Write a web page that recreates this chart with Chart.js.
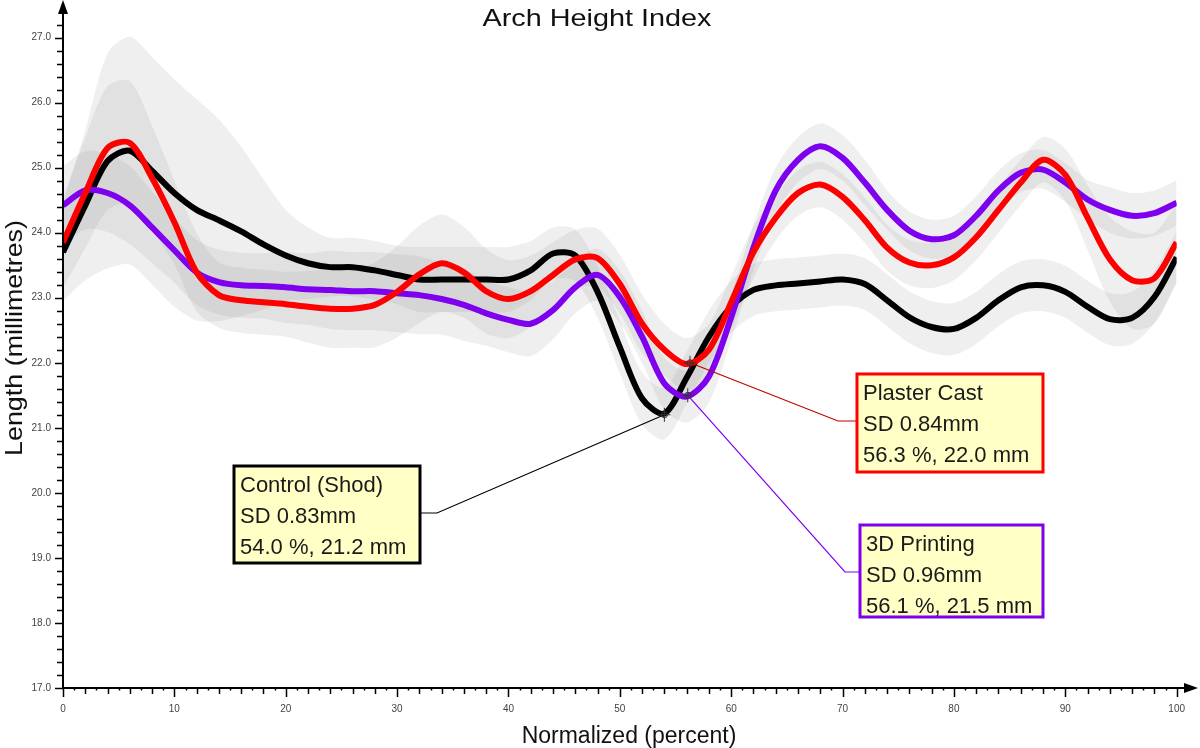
<!DOCTYPE html>
<html>
<head>
<meta charset="utf-8">
<script src="https://cdn.jsdelivr.net/npm/chart.js@4.4.1/dist/chart.umd.min.js"></script>
<style>
  html, body { margin: 0; padding: 0; background: #fff; }
  #wrap { width: 1200px; height: 748px; }
</style>
</head>
<body>
<div id="wrap"><canvas id="chart" width="1200" height="748"></canvas></div>
<script>
// Normalized position (percent), one sample every 2 %
const pct = [0, 2, 4, 6, 8, 10, 12, 14, 16, 18, 20, 22, 24, 26, 28, 30, 32, 34, 36, 38, 40,
  42, 44, 46, 48, 50, 52, 54, 56, 58, 60, 62, 64, 66, 68, 70, 72, 74, 76, 78, 80,
  82, 84, 86, 88, 90, 92, 94, 96, 98, 100];

// Mean arch height (mm)
const control = [23.70, 24.42, 25.10, 25.26, 24.95, 24.61, 24.35, 24.19, 24.02, 23.82, 23.65,
  23.53, 23.47, 23.47, 23.42, 23.35, 23.28, 23.28, 23.28, 23.28, 23.28,
  23.42, 23.68, 23.65, 23.09, 22.24, 21.45, 21.22, 21.77, 22.40, 22.86,
  23.12, 23.19, 23.22, 23.25, 23.28, 23.21, 22.96, 22.70, 22.55, 22.52,
  22.69, 22.96, 23.16, 23.19, 23.09, 22.86, 22.67, 22.69, 23.01, 23.62];
const plaster = [23.85, 24.61, 25.30, 25.38, 24.84, 24.16, 23.39, 23.04, 22.96, 22.93, 22.90,
  22.86, 22.83, 22.83, 22.89, 23.09, 23.36, 23.53, 23.39, 23.10, 22.98,
  23.10, 23.35, 23.59, 23.61, 23.21, 22.60, 22.20, 21.98, 22.20, 22.93,
  23.70, 24.23, 24.61, 24.74, 24.55, 24.19, 23.77, 23.54, 23.50, 23.62,
  23.93, 24.35, 24.77, 25.12, 24.89, 24.23, 23.59, 23.27, 23.30, 23.85];
const printing = [24.42, 24.65, 24.61, 24.42, 24.08, 23.73, 23.39, 23.24, 23.19, 23.18, 23.16,
  23.13, 23.12, 23.10, 23.10, 23.07, 23.04, 22.98, 22.89, 22.76, 22.66,
  22.60, 22.81, 23.16, 23.35, 23.01, 22.40, 21.68, 21.48, 21.79, 22.70,
  23.77, 24.65, 25.12, 25.33, 25.15, 24.77, 24.35, 24.03, 23.90, 23.96,
  24.26, 24.65, 24.92, 24.97, 24.77, 24.51, 24.35, 24.26, 24.30, 24.46];

// Standard deviation (mm), same sampling
const controlSd = [0.75, 1.15, 1.65, 1.75, 1.75, 1.75, 1.7, 1.55, 1.3, 1.0, 0.7,
  0.55, 0.45, 0.45, 0.45, 0.45, 0.5, 0.5, 0.5, 0.5, 0.5,
  0.45, 0.4, 0.4, 0.4, 0.4, 0.4, 0.4, 0.4, 0.4, 0.4,
  0.4, 0.4, 0.4, 0.4, 0.4, 0.4, 0.4, 0.4, 0.4, 0.4,
  0.4, 0.4, 0.4, 0.4, 0.4, 0.4, 0.4, 0.4, 0.4, 0.4];
const plasterSd = [0.7, 0.85, 0.95, 0.95, 0.8, 0.65, 0.6, 0.5, 0.5, 0.5, 0.5,
  0.55, 0.6, 0.6, 0.65, 0.7, 0.75, 0.75, 0.7, 0.65, 0.6,
  0.55, 0.5, 0.45, 0.45, 0.45, 0.45, 0.4, 0.4, 0.4, 0.4,
  0.4, 0.35, 0.35, 0.35, 0.35, 0.35, 0.35, 0.35, 0.35, 0.35,
  0.35, 0.35, 0.35, 0.35, 0.4, 0.5, 0.65, 0.75, 0.7, 0.6];
const printingSd = [0.6, 0.6, 0.6, 0.6, 0.55, 0.5, 0.5, 0.5, 0.5, 0.5, 0.55,
  0.55, 0.6, 0.6, 0.6, 0.6, 0.6, 0.55, 0.55, 0.5, 0.5,
  0.5, 0.45, 0.4, 0.4, 0.4, 0.4, 0.4, 0.4, 0.4, 0.35,
  0.35, 0.35, 0.35, 0.35, 0.35, 0.35, 0.3, 0.3, 0.3, 0.3,
  0.3, 0.3, 0.3, 0.3, 0.3, 0.3, 0.35, 0.35, 0.35, 0.35];

// Tick labels
const xTicks = [0, 10, 20, 30, 40, 50, 60, 70, 80, 90, 100];
const yTicks = [17, 18, 19, 20, 21, 22, 23, 24, 25, 26, 27];

// Callout values
const noteNames = ["Control (Shod)", "Plaster Cast", "3D Printing"];
const noteSd = [0.83, 0.84, 0.96];
const notePct = [54.0, 56.3, 56.1];
const noteMm = [21.2, 22.0, 21.5];

// Styling
const colors = ["#000000", "#ff0000", "#7f00ee"];
const leaderColors = ["#000000", "#c00000", "#7f00ee"];
const bandFill = "rgba(128, 128, 128, 0.13)";
const font = '"Liberation Sans", Arial, sans-serif';

// Callout box layout: [left, top, width, height, elbowX, elbowY, side]
const noteBoxes = [
  [234, 466, 186, 97, 437, 513, "right"],
  [857, 374, 186, 98, 838, 421, "left"],
  [860, 525, 183, 92, 845, 572, "left"],
];

function points(values) {
  return pct.map((x, i) => ({ x: x, y: values[i] }));
}

const series = [
  { means: control, sd: controlSd, order: 2 },
  { means: plaster, sd: plasterSd, order: 0 },
  { means: printing, sd: printingSd, order: 1 },
];

const datasets = [];
// SD bands first (drawn beneath lines)
series.forEach((s) => {
  const upper = s.means.map((m, i) => m + s.sd[i]);
  const lower = s.means.map((m, i) => m - s.sd[i]);
  datasets.push({
    data: points(upper), borderWidth: 0, pointRadius: 0, fill: false,
    tension: 0.3, order: 5,
  });
  datasets.push({
    data: points(lower), borderWidth: 0, pointRadius: 0, fill: "-1",
    backgroundColor: bandFill, tension: 0.3, order: 5,
  });
});
// Mean lines
series.forEach((s, i) => {
  datasets.push({
    label: noteNames[i],
    data: points(s.means),
    borderColor: colors[i],
    borderWidth: 6,
    pointRadius: 0,
    fill: false,
    tension: 0.3,
    order: s.order,
  });
});

// Axis lines, arrows and minor ticks
const axesPlugin = {
  id: "axes",
  afterDatasetsDraw(chart) {
    const { ctx, scales } = chart;
    const x = scales.x, y = scales.y;
    const x0 = x.getPixelForValue(0);
    const y0 = y.getPixelForValue(17);
    ctx.save();
    ctx.strokeStyle = "#000";
    ctx.fillStyle = "#000";
    ctx.lineWidth = 2;
    ctx.beginPath();
    ctx.moveTo(x0, y0);
    ctx.lineTo(x0, 8);
    ctx.moveTo(x0, y0);
    ctx.lineTo(1190, y0);
    ctx.stroke();
    // arrows
    ctx.beginPath();
    ctx.moveTo(x0, 0);
    ctx.lineTo(x0 - 5, 14);
    ctx.lineTo(x0 + 5, 14);
    ctx.closePath();
    ctx.fill();
    ctx.beginPath();
    ctx.moveTo(1198, y0);
    ctx.lineTo(1184, y0 - 5);
    ctx.lineTo(1184, y0 + 5);
    ctx.closePath();
    ctx.fill();
    // y ticks every 0.2
    ctx.lineWidth = 1.5;
    ctx.beginPath();
    for (let k = 0; k <= 51; k++) {
      const py = Math.round(y.getPixelForValue(17 + k * 0.2)) + 0.5;
      const len = k % 5 === 0 ? 8 : 6;
      ctx.moveTo(x0 - len, py);
      ctx.lineTo(x0, py);
    }
    // x ticks every 1
    for (let v = 0; v <= 100; v++) {
      const px = Math.round(x.getPixelForValue(v)) + 0.5;
      const len = v % 10 === 0 ? 9 : (v % 2 === 0 ? 6 : 2.5);
      ctx.moveTo(px, y0);
      ctx.lineTo(px, y0 + len);
    }
    ctx.stroke();
    ctx.restore();
  },
};

function stretchedText(ctx, text, cx, cy, sx, angle) {
  ctx.save();
  ctx.translate(cx, cy);
  ctx.rotate(angle);
  ctx.scale(sx, 1);
  ctx.fillText(text, 0, 0);
  ctx.restore();
}

// Titles and callouts
const notesPlugin = {
  id: "notes",
  afterDraw(chart) {
    const { ctx, scales } = chart;
    ctx.save();
    ctx.fillStyle = "#111";
    ctx.textBaseline = "middle";
    ctx.textAlign = "center";
    ctx.font = "24px " + font;
    stretchedText(ctx, "Arch Height Index", 597, 19, 1.2, 0);
    ctx.font = "23px " + font;
    stretchedText(ctx, "Normalized (percent)", 629, 737, 1, 0);
    ctx.font = "24px " + font;
    stretchedText(ctx, "Length (millimetres)", 15, 338, 1.12, -Math.PI / 2);

    noteNames.forEach((name, i) => {
      const [bx, by, bw, bh, ex, ey, side] = noteBoxes[i];
      const px = scales.x.getPixelForValue(notePct[i]);
      const py = scales.y.getPixelForValue(noteMm[i]);
      const edgeX = side === "right" ? bx + bw : bx;
      // leader
      ctx.strokeStyle = leaderColors[i];
      ctx.lineWidth = 1.2;
      ctx.beginPath();
      ctx.moveTo(px, py);
      ctx.lineTo(ex, ey);
      ctx.lineTo(edgeX, ey);
      ctx.stroke();
      // marker
      ctx.strokeStyle = "#333";
      ctx.lineWidth = 1;
      ctx.beginPath();
      ctx.moveTo(px - 6, py);
      ctx.lineTo(px + 6, py);
      ctx.moveTo(px, py - 7);
      ctx.lineTo(px, py + 7);
      ctx.stroke();
      ctx.beginPath();
      ctx.arc(px, py, 3, 0, Math.PI * 2);
      ctx.stroke();
      // box
      ctx.fillStyle = "#ffffc6";
      ctx.fillRect(bx, by, bw, bh);
      ctx.strokeStyle = colors[i];
      ctx.lineWidth = 3;
      ctx.strokeRect(bx, by, bw, bh);
      ctx.fillStyle = "#1a1a1a";
      ctx.textAlign = "left";
      ctx.font = "22px " + font;
      const lines = [
        name,
        "SD " + noteSd[i].toFixed(2) + "mm",
        notePct[i].toFixed(1) + " %, " + noteMm[i].toFixed(1) + " mm",
      ];
      lines.forEach((t, j) => ctx.fillText(t, bx + 6, by + 20 + j * 31));
    });
    ctx.restore();
  },
};

new Chart(document.getElementById("chart").getContext("2d"), {
  type: "line",
  data: { datasets: datasets },
  options: {
    responsive: false,
    devicePixelRatio: 1,
    animation: false,
    layout: { padding: { top: 14, right: 23, left: 0, bottom: 0 } },
    plugins: {
      legend: { display: false },
      tooltip: { enabled: false },
      title: { display: false },
    },
    scales: {
      x: {
        type: "linear",
        min: 0,
        max: 100,
        grid: { display: false, drawTicks: false },
        border: { display: false },
        ticks: {
          font: { size: 10, family: font },
          color: "#444",
          padding: 15,
          maxRotation: 0,
          autoSkip: false,
        },
        afterBuildTicks: (s) => { s.ticks = xTicks.map((v) => ({ value: v })); },
        afterFit: (s) => { s.height = 60; },
      },
      y: {
        type: "linear",
        min: 17,
        max: 27.3,
        grid: { display: false, drawTicks: false },
        border: { display: false },
        ticks: {
          font: { size: 10, family: font },
          color: "#444",
          padding: 12,
          callback: (v) => Number(v).toFixed(1),
        },
        afterBuildTicks: (s) => { s.ticks = yTicks.map((v) => ({ value: v })); },
        afterFit: (s) => { s.width = 63; },
      },
    },
  },
  plugins: [axesPlugin, notesPlugin],
});
</script>
</body>
</html>
